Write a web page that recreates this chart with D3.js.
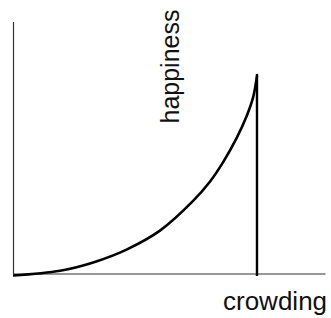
<!DOCTYPE html>
<html><head><meta charset="utf-8">
<script src="https://cdn.jsdelivr.net/npm/d3@7"></script>
<style>html,body{margin:0;padding:0;background:#fff;}</style>
</head><body>
<script>
// Data (arbitrary units 0-100)
const crowding = [0, 15.1, 25.7, 36.4, 47.1, 57.8, 63.1, 67.4, 71.7, 74.9, 77.0, 78.2];
const happiness = [-0.8, 1.1, 4.4, 9.5, 17.0, 28.9, 36.4, 44.3, 53.8, 62.5, 70.1, 78.4];
const markerX = [78.2];
const markerY = [-1.0, 79.2];
const xLabel = ["crowding"];
const yLabel = ["happiness"];

const W = 331, H = 318;
const svg = d3.select("body").append("svg").attr("width", W).attr("height", H);

const x = d3.scaleLinear().domain([0, 100]).range([13, 325]);
const y = d3.scaleLinear().domain([0, 100]).range([273.5, 21.5]);

// axes (plain lines, no ticks)
svg.append("g").attr("transform", `translate(0,${y(0)})`)
  .call(d3.axisBottom(x).tickValues([]).tickSizeOuter(0))
  .call(g => g.select(".domain").attr("stroke", "#333").attr("stroke-width", 1.2));
svg.append("g").attr("transform", `translate(${x(0)},0)`)
  .call(d3.axisLeft(y).tickValues([]).tickSizeOuter(0))
  .call(g => g.select(".domain").attr("stroke", "#333").attr("stroke-width", 1.2));

const pts = crowding.map((c, i) => [c, happiness[i]]);
const line = d3.line().x(d => x(d[0])).y(d => y(d[1])).curve(d3.curveCatmullRom.alpha(0.5));
svg.append("path").datum(pts).attr("d", line)
  .attr("fill", "none").attr("stroke", "#000").attr("stroke-width", 2.6);

svg.append("line")
  .attr("x1", x(markerX[0])).attr("x2", x(markerX[0]))
  .attr("y1", y(markerY[0])).attr("y2", y(markerY[1]))
  .attr("stroke", "#000").attr("stroke-width", 2.4);

svg.append("text").text(xLabel[0])
  .attr("x", 223).attr("y", 310)
  .attr("font-family", "Liberation Sans, Arial, sans-serif").attr("font-size", 26)
  .attr("fill", "#111");

svg.append("text").text(yLabel[0])
  .attr("transform", "translate(179,123.5) rotate(-90)")
  .attr("font-family", "Liberation Sans, Arial, sans-serif").attr("font-size", 25)
  .attr("fill", "#111");
</script>
</body></html>
